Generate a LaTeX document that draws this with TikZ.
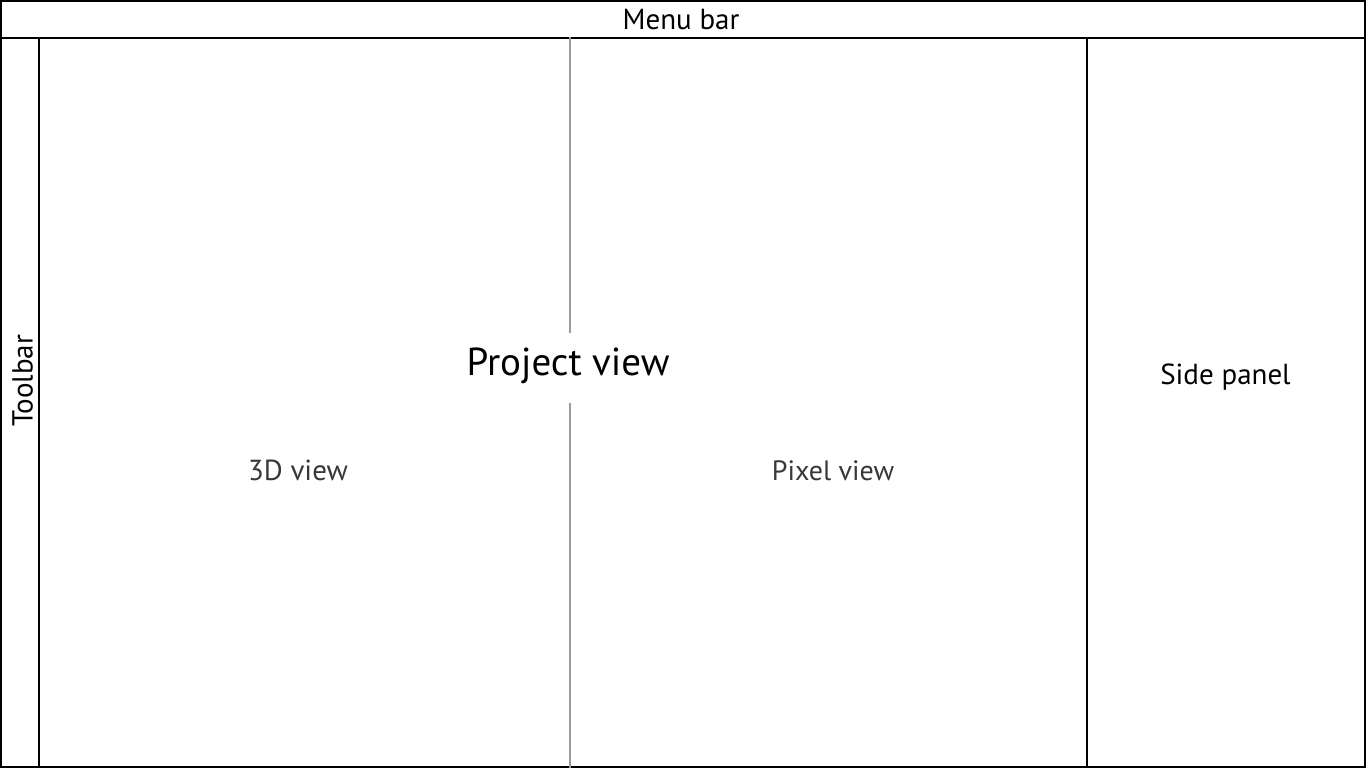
\documentclass[tikz,border=0pt]{standalone}
\usepackage{fontspec}
\setmainfont{PT Sans}
\definecolor{dividergray}{HTML}{9A9A9A}
\definecolor{viewgray}{HTML}{383838}
\tikzset{
  label/.style={anchor=base,inner sep=0pt,font=\fontsize{29}{34}\selectfont},
  viewlabel/.style={label,text=viewgray}
}
\begin{document}
\begin{tikzpicture}[x=1pt,y=-1pt,line width=2pt]
  \useasboundingbox (0,0) rectangle (1366,768);
  % draw frame and panels
  \draw (1,1) rectangle (1365,767);
  \draw (1,38.5) -- (1365,38.5);
  \draw (38.5,38.5) -- (38.5,767);
  \draw (1087,38.5) -- (1087,767);

  % draw divider of project view
  \draw[dividergray] (570,37) -- (570,333);
  \draw[dividergray] (570,403) -- (570,768);

  % labels
  \node[label] (menubar) at (681,29.5) {Menu bar};
  \node[label,rotate=90] (toolbar) at (32.5,381) {Toolbar};
  \node[label,font=\fontsize{39}{46}\selectfont] (project) at (568,375) {Project view};
  \node[label] (side) at (1225.5,384) {Side panel};
  % views
  \node[viewlabel] (view3d) at (298,480) {3D view};
  \node[viewlabel,font=\fontsize{28}{33}\selectfont] (pixel) at (833,480) {Pixel view};
\end{tikzpicture}
\end{document}
